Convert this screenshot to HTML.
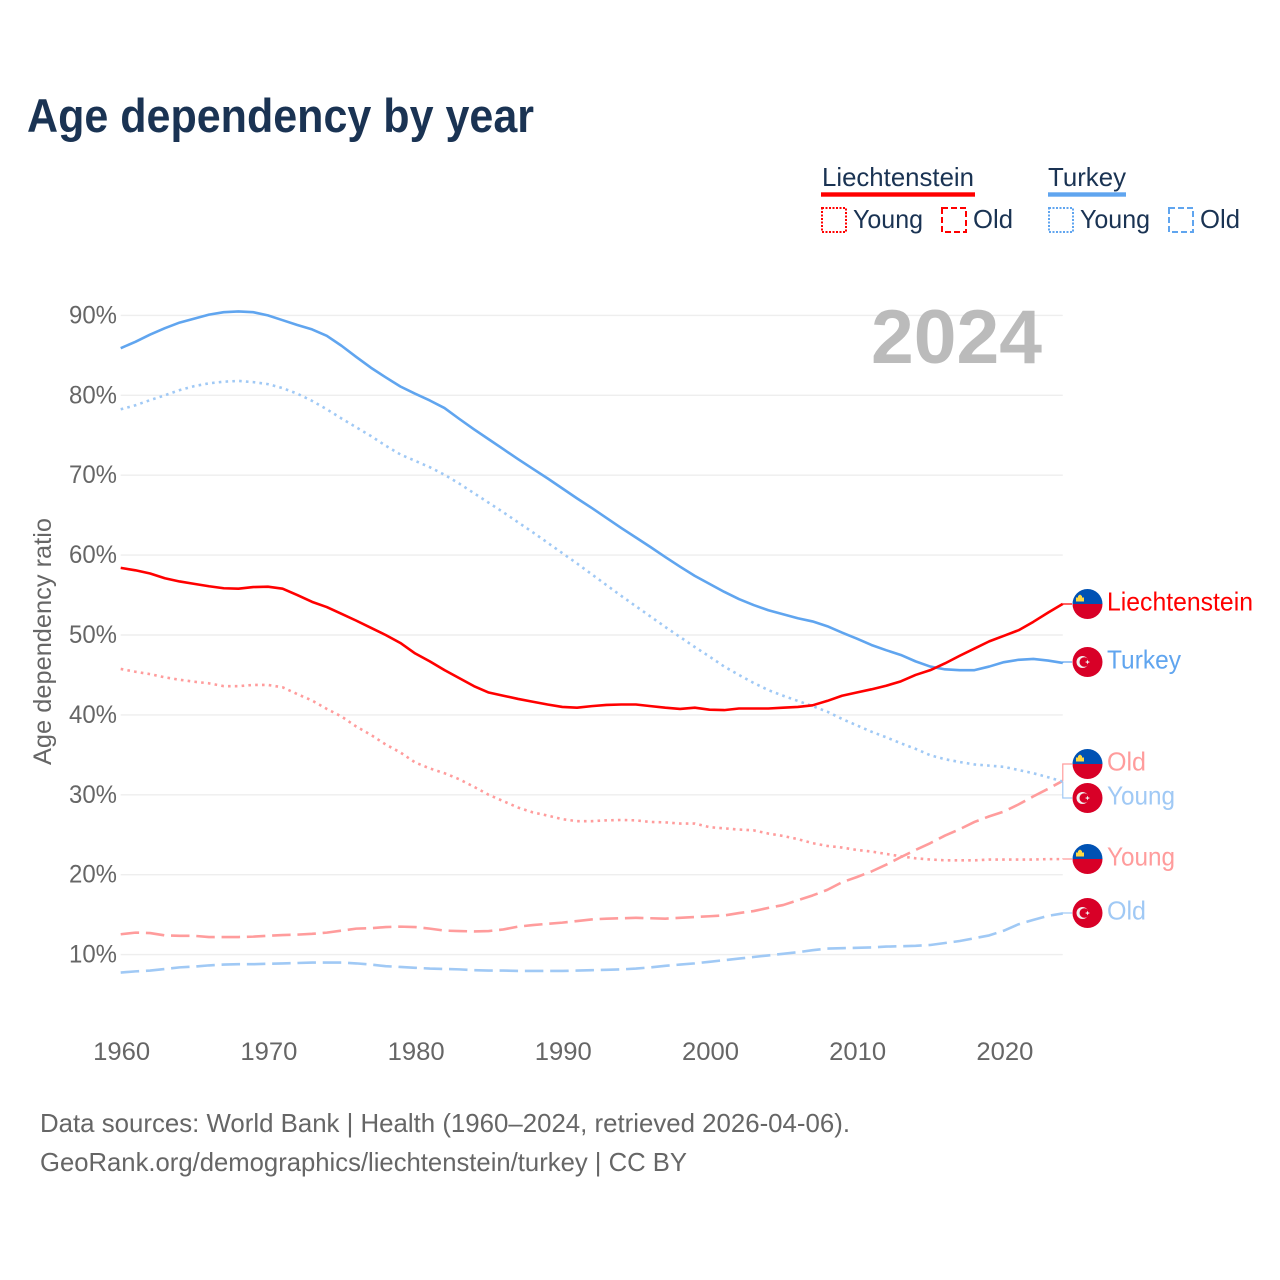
<!DOCTYPE html>
<html lang="en">
<head>
<meta charset="utf-8">
<title>Age dependency by year</title>
<style>
html,body{margin:0;padding:0;background:#fff;width:1280px;height:1280px;overflow:hidden}
svg{display:block}
text{font-family:"Liberation Sans",sans-serif}
</style>
</head>
<body>
<svg id="chart" xmlns="http://www.w3.org/2000/svg" width="1280" height="1280" viewBox="0 0 1280 1280">
  <defs>
    <clipPath id="flag-clip"><circle cx="0" cy="0" r="15"/></clipPath>
    <g id="flag-li">
      <g clip-path="url(#flag-clip)">
        <rect x="-15" y="-15" width="30" height="15" fill="#0052b4"/>
        <rect x="-15" y="0" width="30" height="15" fill="#d80027"/>
        <path d="M-11.5,-2.5 L-11.5,-6.5 L-9.5,-6.5 L-9.5,-8 L-7.5,-9.5 L-5.5,-8 L-5.5,-6.5 L-3.5,-6.5 L-3.5,-2.5 Z" fill="#ffda44"/>
      </g>
    </g>
    <g id="flag-tr">
      <circle cx="0" cy="0" r="15" fill="#d80027"/>
      <circle cx="-5" cy="0" r="6" fill="#f0f0f0"/>
      <circle cx="-3.2" cy="0" r="4.8" fill="#d80027"/>
      <polygon points="-2.6,0 -0.7,-0.6 0,-2.4 0.7,-0.6 2.6,0 0.7,0.7 0,2.4 -0.7,0.7" fill="#f0f0f0"/>
    </g>
  </defs>

  <text x="27" y="132" font-size="47" font-weight="700" fill="#1a3353" textLength="507" lengthAdjust="spacingAndGlyphs">Age dependency by year</text>

  <g>
    <text x="822" y="186" font-size="26" fill="#1a3353" textLength="152" lengthAdjust="spacingAndGlyphs">Liechtenstein</text>
    <rect x="821" y="192.3" width="154" height="4.4" fill="#ff0000"/>
    <rect x="822" y="208" width="24" height="24" fill="none" stroke="#ff0000" stroke-width="2" stroke-dasharray="2 1.5"/>
    <text x="853" y="228" font-size="26" fill="#1a3353" textLength="70" lengthAdjust="spacingAndGlyphs">Young</text>
    <rect x="942" y="208" width="24" height="24" fill="none" stroke="#ff0000" stroke-width="2" stroke-dasharray="6 3"/>
    <text x="973" y="228" font-size="26" fill="#1a3353" textLength="40" lengthAdjust="spacingAndGlyphs">Old</text>

    <text x="1048" y="186" font-size="26" fill="#1a3353" textLength="78" lengthAdjust="spacingAndGlyphs">Turkey</text>
    <rect x="1048" y="192.3" width="78" height="4.4" fill="#60a5ef"/>
    <rect x="1049" y="208" width="24" height="24" fill="none" stroke="#60a5ef" stroke-width="2" stroke-dasharray="2 1.5"/>
    <text x="1080" y="228" font-size="26" fill="#1a3353" textLength="70" lengthAdjust="spacingAndGlyphs">Young</text>
    <rect x="1169" y="208" width="24" height="24" fill="none" stroke="#60a5ef" stroke-width="2" stroke-dasharray="6 3"/>
    <text x="1200" y="228" font-size="26" fill="#1a3353" textLength="40" lengthAdjust="spacingAndGlyphs">Old</text>
  </g>

  <g id="grid"></g>
  <g id="y-ticks"></g>
  <g id="x-ticks"></g>
  <text transform="translate(51,765) rotate(-90)" x="0" y="0" font-size="25" fill="#666666" textLength="247" lengthAdjust="spacingAndGlyphs">Age dependency ratio</text>
  <text x="871" y="363" font-size="76" font-weight="700" fill="#bbbbbb" textLength="171" lengthAdjust="spacingAndGlyphs">2024</text>

  <g id="series"></g>
  <g id="end-labels"></g>

  <text x="40" y="1132" font-size="26" fill="#666666" textLength="810" lengthAdjust="spacingAndGlyphs">Data sources: World Bank | Health (1960–2024, retrieved 2026-04-06).</text>
  <text x="40" y="1171" font-size="26" fill="#666666" textLength="647" lengthAdjust="spacingAndGlyphs">GeoRank.org/demographics/liechtenstein/turkey | CC BY</text>
</svg>

<script>
const startYear = 1960;
const yTickValues = [10, 20, 30, 40, 50, 60, 70, 80, 90];
const xTickValues = [1960, 1970, 1980, 1990, 2000, 2010, 2020];

const turkeyTotal = [
  85.9,86.7,87.6,88.4,89.1,89.6,90.1,90.4,90.5,90.4,
  90.0,89.4,88.8,88.25,87.45,86.2,84.8,83.45,82.25,81.1,
  80.2,79.35,78.4,77.05,75.75,74.5,73.25,72.0,70.8,69.6,
  68.35,67.1,65.9,64.65,63.4,62.2,61,59.75,58.55,57.4,
  56.4,55.4,54.5,53.75,53.1,52.6,52.1,51.7,51.1,50.3,
  49.55,48.75,48.1,47.5,46.7,46.05,45.7,45.6,45.6,46.05,
  46.6,46.9,47.0,46.8,46.5
];
const turkeyYoung = [
  78.25,78.75,79.4,80,80.65,81.15,81.5,81.7,81.8,81.65,
  81.4,80.9,80.2,79.3,78.25,77.1,76,74.9,73.7,72.6,
  71.8,71,70.05,68.95,67.75,66.55,65.35,64.1,62.85,61.55,
  60.25,58.95,57.6,56.25,54.9,53.6,52.3,51,49.75,48.5,
  47.3,46.05,45,44,43.1,42.4,41.75,41.1,40.4,39.5,
  38.7,37.9,37.2,36.45,35.75,34.95,34.45,34.1,33.8,33.65,
  33.5,33.1,32.7,32.2,31.65
];
const turkeyOld = [
  7.75,7.9,8,8.2,8.4,8.5,8.65,8.75,8.8,8.8,
  8.85,8.9,8.95,9,9,9,8.9,8.75,8.55,8.45,
  8.35,8.25,8.2,8.15,8.05,8,8,7.95,7.95,7.95,
  7.95,8,8.05,8.1,8.15,8.25,8.4,8.6,8.75,8.9,
  9.1,9.3,9.5,9.7,9.9,10.1,10.3,10.55,10.75,10.8,
  10.85,10.9,11,11.05,11.1,11.2,11.45,11.7,12.05,12.4,
  13,13.8,14.35,14.85,15.15
];
const liechtensteinTotal = [
  58.4,58.1,57.7,57.1,56.7,56.4,56.1,55.85,55.8,56,
  56.05,55.8,55,54.15,53.5,52.65,51.8,50.9,50,49,
  47.7,46.7,45.6,44.6,43.6,42.8,42.4,42,41.65,41.3,
  41,40.9,41.1,41.25,41.3,41.3,41.1,40.9,40.75,40.9,
  40.65,40.6,40.8,40.8,40.8,40.9,41,41.2,41.75,42.4,
  42.8,43.2,43.65,44.2,45,45.6,46.45,47.4,48.3,49.2,
  49.9,50.6,51.65,52.8,53.9
];
const liechtensteinYoung = [
  45.75,45.4,45.1,44.7,44.4,44.15,43.95,43.6,43.6,43.75,
  43.75,43.45,42.6,41.8,40.75,39.8,38.55,37.5,36.3,35.3,
  34.05,33.3,32.7,31.95,31,30,29.2,28.4,27.8,27.4,
  26.95,26.7,26.7,26.8,26.85,26.8,26.6,26.55,26.4,26.4,
  25.95,25.8,25.65,25.55,25.15,24.85,24.45,23.95,23.6,23.4,
  23.1,22.9,22.6,22.3,22.05,21.9,21.8,21.8,21.8,21.9,
  21.9,21.9,21.9,21.95,21.95
];
const liechtensteinOld = [
  12.55,12.75,12.7,12.4,12.35,12.35,12.2,12.2,12.2,12.25,
  12.35,12.45,12.5,12.6,12.75,13,13.25,13.3,13.45,13.5,
  13.45,13.25,13,12.95,12.9,12.95,13.15,13.5,13.7,13.85,
  14,14.2,14.4,14.5,14.55,14.6,14.55,14.5,14.6,14.7,
  14.8,14.9,15.2,15.45,15.85,16.2,16.8,17.4,18.1,19.05,
  19.7,20.4,21.25,22.2,23.1,23.95,24.9,25.7,26.6,27.3,
  27.9,28.8,29.8,30.75,31.75
];

const SVGNS = 'http://www.w3.org/2000/svg';
const xScale = year => 120.7 + (year - startYear) * 14.72;
const yScale = value => 954.6 - (value - 10) * 7.99;
const LAST_X = xScale(2024);
const END_X = 1072;
const FLAG_X = 1087.5;
const LABEL_X = 1107;

function make(tag, attrs, parent) {
  const el = document.createElementNS(SVGNS, tag);
  for (const k in attrs) el.setAttribute(k, attrs[k]);
  parent.appendChild(el);
  return el;
}
function linePath(values) {
  return values.map((v, i) => (i ? 'L' : 'M') + xScale(startYear + i).toFixed(2) + ',' + yScale(v).toFixed(2)).join(' ');
}

const gridGroup = document.getElementById('grid');
const yTickGroup = document.getElementById('y-ticks');
const xTickGroup = document.getElementById('x-ticks');
const seriesGroup = document.getElementById('series');
const labelGroup = document.getElementById('end-labels');

yTickValues.forEach(v => {
  const line = make('line', {x1: xScale(startYear), x2: LAST_X, y1: yScale(v), y2: yScale(v), stroke: '#eeeeee', 'stroke-width': 1.4}, gridGroup);
  
  
  const t = make('text', {x: 69, y: yScale(v) + 8, 'font-size': 25, fill: '#666666', textLength: 48, lengthAdjust: 'spacingAndGlyphs'}, yTickGroup);
  t.textContent = v + '%';
  
  
});

xTickValues.forEach(y => {
  const t = make('text', {x: xScale(y) - 27.5, y: 1060, 'font-size': 25, fill: '#666666', textLength: 57, lengthAdjust: 'spacingAndGlyphs'}, xTickGroup);
  t.textContent = String(y);
  
  
});

function drawSeries(name, values, color, dash) {
  const attrs = {d: linePath(values), fill: 'none', stroke: color, 'stroke-width': 2.6, 'stroke-linejoin': 'round'};
  if (dash) attrs['stroke-dasharray'] = dash;
  const p = make('path', attrs, seriesGroup);
  
  
}

const RED = '#ff0000', BLUE = '#60a5ef', PINK = '#ff9c9c', SKY = '#a0c9f5';
const DOT = '2.6 4.2', DASH = '18.5 6.8';
drawSeries('line-turkey-old', turkeyOld, SKY, DASH);
drawSeries('line-liechtenstein-old', liechtensteinOld, PINK, DASH);
drawSeries('line-liechtenstein-young', liechtensteinYoung, PINK, DOT);
drawSeries('line-turkey-young', turkeyYoung, SKY, DOT);
drawSeries('line-turkey-total', turkeyTotal, BLUE, null);
drawSeries('line-liechtenstein-total', liechtensteinTotal, RED, null);

function drawEndLabel(name, text, values, labelY, color, flag, width) {
  const endY = yScale(values[values.length - 1]);
  const leader = make('path', {d: 'M' + LAST_X + ',' + endY + ' L' + LAST_X + ',' + labelY + ' L' + END_X + ',' + labelY, fill: 'none', stroke: color, 'stroke-width': 1.2}, labelGroup);
  
  
  const f = make('use', {href: '#' + flag, x: FLAG_X, y: labelY}, labelGroup);
  
  
  const t = make('text', {x: LABEL_X, y: labelY + 6.5, 'font-size': 26, fill: color, textLength: width, lengthAdjust: 'spacingAndGlyphs'}, labelGroup);
  t.textContent = text;
  
  
}

drawEndLabel('end-liechtenstein-total', 'Liechtenstein', liechtensteinTotal, 604, RED, 'flag-li', 146);
drawEndLabel('end-turkey-total', 'Turkey', turkeyTotal, 662, BLUE, 'flag-tr', 74);
drawEndLabel('end-liechtenstein-old', 'Old', liechtensteinOld, 764, PINK, 'flag-li', 39);
drawEndLabel('end-turkey-young', 'Young', turkeyYoung, 798, SKY, 'flag-tr', 68);
drawEndLabel('end-liechtenstein-young', 'Young', liechtensteinYoung, 859, PINK, 'flag-li', 68);
drawEndLabel('end-turkey-old', 'Old', turkeyOld, 913, SKY, 'flag-tr', 39);
</script>
</body>
</html>
